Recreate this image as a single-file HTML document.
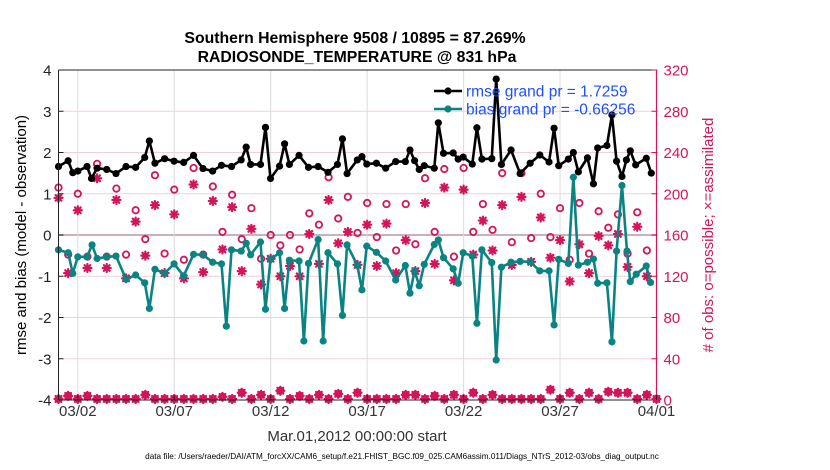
<!DOCTYPE html>
<html><head><meta charset="utf-8"><style>
body{margin:0;background:#fff;}
svg{display:block;font-family:"Liberation Sans",sans-serif;}
</style></head><body>
<svg id="chart" width="830" height="470" viewBox="0 0 830 470" xmlns="http://www.w3.org/2000/svg">
<text x="355" y="43" text-anchor="middle" font-size="15.8" font-weight="bold">Southern Hemisphere 9508 / 10895 = 87.269%</text>
<text x="357" y="62" text-anchor="middle" font-size="15.8" font-weight="bold">RADIOSONDE_TEMPERATURE @ 831 hPa</text>
<g id="grid"></g>
<g id="marks"></g>
<g id="axes"></g>
<text transform="translate(26,235) rotate(-90)" text-anchor="middle" font-size="15">rmse and bias (model - observation)</text>
<text transform="translate(713,235) rotate(-90)" text-anchor="middle" font-size="15" fill="#d4145a"># of obs: o=possible; ×=assimilated</text>
<text x="357" y="441" text-anchor="middle" font-size="15" fill="#333">Mar.01,2012 00:00:00 start</text>
<text x="402" y="459" text-anchor="middle" font-size="8.2">data file: /Users/raeder/DAI/ATM_forcXX/CAM6_setup/f.e21.FHIST_BGC.f09_025.CAM6assim.011/Diags_NTrS_2012-03/obs_diag_output.nc</text>
<g id="legend"></g>
</svg>
<script>
const rmseDays=[0,0.5,0.74,1,1.48,1.71,2,2.5,2.98,3.5,4,4.47,4.71,5,5.5,5.99,6.49,7,7.49,7.99,8.45,8.97,9.47,9.73,9.96,10.47,10.73,10.99,11.46,11.72,11.97,12.47,12.96,13.46,13.97,14.46,14.72,14.96,15.49,15.73,15.98,16.48,16.96,17.48,17.98,18.22,18.46,18.7,18.96,19.48,19.69,19.96,20.46,20.72,20.98,21.45,21.69,21.95,22.46,22.69,22.96,23.46,23.93,24.45,24.95,25.43,25.69,25.93,26.43,26.69,26.95,27.42,27.73,27.95,28.43,28.69,28.93,29.21,29.44,29.64,29.92,30.47,30.73];
const rmseVals=[1.66,1.8,1.51,1.55,1.66,1.37,1.62,1.59,1.49,1.66,1.64,1.88,2.28,1.74,1.85,1.79,1.76,1.93,1.61,1.55,1.69,1.66,1.82,2.13,1.71,1.71,2.61,1.37,1.67,2.21,1.71,1.93,1.64,1.66,1.52,1.71,2.33,1.49,1.82,1.9,1.72,1.74,1.62,1.78,1.78,2.06,1.8,1.59,1.68,1.62,2.72,1.98,1.99,1.84,1.89,1.72,2.6,1.84,1.85,3.78,1.71,2.06,1.49,1.74,1.94,1.77,2.59,1.68,1.84,2.0,1.53,1.87,1.24,2.11,2.17,2.91,1.79,1.42,1.82,2.04,1.7,1.86,1.5];
const biasDays=[0,0.5,0.74,1,1.48,1.74,2,2.5,2.98,3.5,4,4.47,4.71,5,5.5,5.99,6.49,7,7.49,7.99,8.45,8.7,8.97,9.47,9.73,9.96,10.47,10.73,10.99,11.46,11.72,11.97,12.47,12.72,12.96,13.46,13.72,13.97,14.46,14.72,14.96,15.49,15.73,15.98,16.48,16.96,17.48,17.98,18.22,18.46,18.7,18.96,19.48,19.69,19.96,20.46,20.72,20.98,21.45,21.69,21.95,22.46,22.69,22.96,23.46,23.93,24.45,24.95,25.43,25.69,25.93,26.43,26.69,26.95,27.42,27.73,27.95,28.43,28.69,28.93,29.21,29.47,29.64,29.95,30.47,30.69];
const biasVals=[-0.36,-0.43,-0.93,-0.53,-0.53,-0.24,-0.57,-0.53,-0.51,-1.07,-0.97,-1.16,-1.78,-0.83,-0.93,-0.7,-0.99,-0.47,-0.48,-0.66,-0.7,-2.21,-0.36,-0.39,-0.2,-0.48,-0.17,-1.8,-0.59,-0.43,-1.78,-0.61,-0.63,-2.57,-0.69,-0.11,-2.57,-0.43,-0.7,-1.95,-0.24,-0.73,-1.33,-0.27,-0.42,-0.63,-1.09,-0.74,-1.41,-0.87,-1.23,-0.71,-0.23,-0.12,-0.55,-0.82,-1.17,-0.43,-0.51,-2.14,-0.36,-0.67,-3.03,-0.78,-0.66,-0.64,-0.65,-0.87,-0.87,-2.18,-0.59,-0.69,1.4,-0.73,-0.66,-0.58,-1.17,-1.16,-2.59,-0.39,1.2,-0.39,-1.13,-0.95,-0.75,-1.15];
// obs counts every 12h from day 0
const possibleCounts=[206,141,200,139,229,139,205,141,184,156,218,142,204,136,225,141,207,163,199,156,186,137,160,150,160,146,181,170,216,176,197,162,191,158,190,145,190,151,215,163,224,139,225,163,190,165,220,153,220,157,200,158,186,136,191,142,183,167,180,142,182,145];
const assimCounts=[196,123,184,128,215,128,194,118,173,140,189,123,180,118,209,124,193,146,187,125,166,112,137,120,130,120,161,132,194,152,163,131,170,130,171,123,155,125,191,132,206,116,204,141,174,145,189,131,197,134,177,138,155,115,151,123,159,150,161,129,168,120];
const lowCounts=[1,4,1,4,1,1,1,1,1,5,1,1,1,1,1,1,1,3,1,7,1,5,1,9,1,4,1,5,1,6,1,7,1,1,1,1,5,5,1,4,1,5,1,7,1,5,1,1,1,1,1,10,1,7,1,7,1,8,7,7,1,5,1];
const xTickDays=[1,6,11,16,21,26,31];
const xTickLabels=['03/02','03/07','03/12','03/17','03/22','03/27','04/01'];
const yTicksLeft=[-4,-3,-2,-1,0,1,2,3,4];
const yTicksRight=[0,40,80,120,160,200,240,280,320];
const legendLabels=['rmse grand pr = 1.7259','bias grand pr = -0.66256'];

const NS='http://www.w3.org/2000/svg';
const X0=58.5,X1=656.5,Y0=70,Y1=400;
const xs=d=>X0+d*(X1-X0)/31;
const yl=v=>Y1-(v+4)*(Y1-Y0)/8;
const yr=c=>Y1-c*(Y1-Y0)/320;
const CR='#d4145a',TEAL='#0a8383';
function mk(tag,attrs,parent){const e=document.createElementNS(NS,tag);for(const k in attrs)e.setAttribute(k,attrs[k]);parent.appendChild(e);return e;}
const grid=document.getElementById('grid'),marks=document.getElementById('marks'),axes=document.getElementById('axes'),legend=document.getElementById('legend');

yTicksLeft.forEach(v=>{if(v===-4||v===4)return;
  const l=mk('line',{x1:X0,x2:X1,y1:yl(v),y2:yl(v),stroke:v===0?'#c8b4b8':'#f2cfd9','stroke-width':v===0?2:1},grid);
  
  
});
xTickDays.forEach(d=>{if(xs(d)>X1-1)return;
  const l=mk('line',{x1:xs(d),x2:xs(d),y1:Y0,y2:Y1,stroke:'#dcdcdc','stroke-width':1},grid);
  
  
});

function circle(x,y,name){const c=mk('circle',{cx:x,cy:y,r:3.2,fill:'none',stroke:CR,'stroke-width':1.8},marks);
  
  }
function star(x,y,name){const g=mk('g',{stroke:CR,'stroke-width':2.2,'stroke-linecap':'round'},marks);
  
  
  const r=4;mk('line',{x1:x-r,x2:x+r,y1:y,y2:y},g);mk('line',{x1:x,x2:x,y1:y-r,y2:y+r},g);
  const q=r*0.72;mk('line',{x1:x-q,x2:x+q,y1:y-q,y2:y+q},g);mk('line',{x1:x-q,x2:x+q,y1:y+q,y2:y-q},g);}
possibleCounts.forEach((c,i)=>circle(xs(i*0.5),yr(c),'possible-obs-point'));
assimCounts.forEach((c,i)=>star(xs(i*0.5),yr(c),'assimilated-obs-point'));
lowCounts.forEach((c,i)=>{circle(xs(i*0.5),yr(c),'possible-obs-low');star(xs(i*0.5),yr(c),'assimilated-obs-low');});

function series(days,vals,color,name){
  const p=mk('polyline',{points:days.map((d,i)=>xs(d)+','+yl(vals[i])).join(' '),fill:'none',stroke:color,'stroke-width':2.6,'stroke-linejoin':'round'},marks);
  
  
  days.forEach((d,i)=>{const c=mk('circle',{cx:xs(d),cy:yl(vals[i]),r:3.6,fill:color},marks);
    
    });
}
series(biasDays,biasVals,TEAL,'bias');
series(rmseDays,rmseVals,'#000','rmse');

mk('line',{x1:X0,x2:X1,y1:Y0,y2:Y0,stroke:'#222','stroke-width':1},axes);
mk('line',{x1:X0,x2:X1,y1:Y1,y2:Y1,stroke:'#222','stroke-width':1},axes);
mk('line',{x1:X0,x2:X0,y1:Y0,y2:Y1,stroke:'#222','stroke-width':1},axes);
mk('line',{x1:X1,x2:X1,y1:Y0,y2:Y1,stroke:CR,'stroke-width':1.2},axes);
yTicksLeft.forEach(v=>{mk('line',{x1:X0,x2:X0+5,y1:yl(v),y2:yl(v),stroke:'#222'},axes);
  const t=mk('text',{x:X0-7,y:yl(v)+5.5,'text-anchor':'end','font-size':15,fill:'#222'},axes);t.textContent=v;
  
  });
yTicksRight.forEach(c=>{mk('line',{x1:X1-5,x2:X1+1,y1:yr(c),y2:yr(c),stroke:CR},axes);
  const t=mk('text',{x:X1+7,y:yr(c)+5.5,'font-size':15,fill:CR},axes);t.textContent=c;
  
  });
xTickDays.forEach((d,i)=>{mk('line',{x1:xs(d),x2:xs(d),y1:Y1,y2:Y1-5,stroke:'#222'},axes);
  const t=mk('text',{x:xs(d),y:Y1+16,'text-anchor':'middle','font-size':15,fill:'#333'},axes);t.textContent=xTickLabels[i];
  
  });

[['#000',91],[TEAL,109]].forEach((s,i)=>{
  mk('line',{x1:434,x2:462,y1:s[1],y2:s[1],stroke:s[0],'stroke-width':2.6},legend);
  mk('circle',{cx:448,cy:s[1],r:3.6,fill:s[0]},legend);
  const t=mk('text',{x:466,y:s[1]+5.5,'font-size':15.5,fill:'#1f4fff'},legend);t.textContent=legendLabels[i];
  
  });
</script>
</body></html>
